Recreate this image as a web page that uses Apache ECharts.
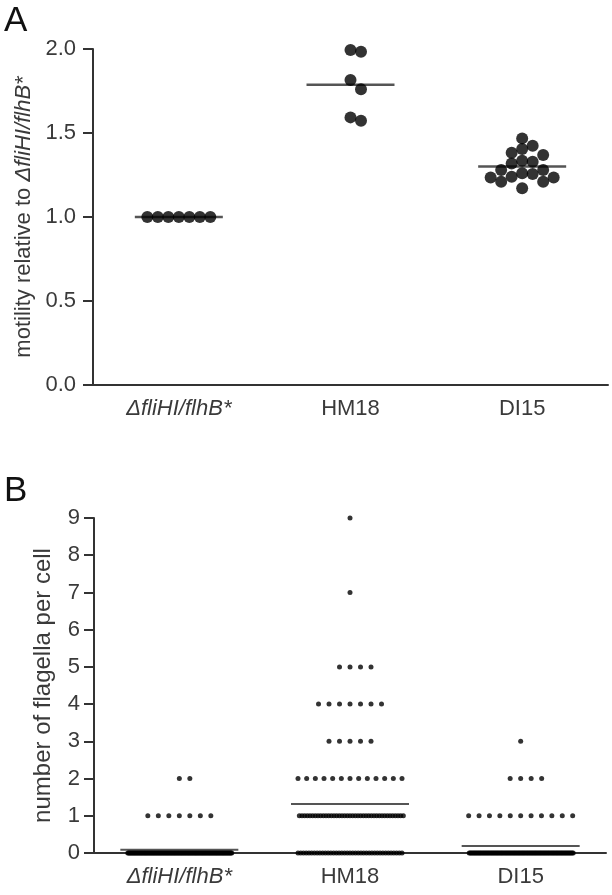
<!DOCTYPE html>
<html>
<head>
<meta charset="utf-8">
<script src="https://cdn.jsdelivr.net/npm/echarts@6/dist/echarts.min.js"></script>
<style>
html,body{margin:0;padding:0;background:#ffffff;}
#chart{width:612px;height:895px;}
</style>
</head>
<body>
<div id="chart"></div>
<script>
// ---------- data ----------
const categories = ['ΔfliHI/flhB*', 'HM18', 'DI15'];

// Panel A: motility relative to ΔfliHI/flhB*
const motilityTicks = [0.0, 0.5, 1.0, 1.5, 2.0];
const motilityDelta = [1.0, 1.0, 1.0, 1.0, 1.0, 1.0, 1.0];
const motilityHM18 = [1.994, 1.984, 1.815, 1.760, 1.593, 1.573];
const motilityDI15 = [1.468, 1.424, 1.405, 1.383, 1.369, 1.335, 1.329, 1.319, 1.280,
                      1.280, 1.260, 1.256, 1.240, 1.235, 1.235, 1.210, 1.210, 1.171];

// Panel B: number of flagella per cell (count of cells at each flagella number)
const flagellaTicks = [0, 1, 2, 3, 4, 5, 6, 7, 8, 9];
const flagellaDeltaCounts = [120, 7, 2, 0, 0, 0, 0, 0, 0, 0];
const flagellaHM18Counts  = [39, 40, 13, 5, 7, 4, 0, 1, 0, 1];
const flagellaDI15Counts  = [100, 11, 4, 1, 0, 0, 0, 0, 0, 0];

// ---------- helpers ----------
const FONT = '"Liberation Sans", Arial, sans-serif';
const TEXT = '#3a3a3a';
const AXIS = '#333333';

function mean(arr) { return arr.reduce((a, b) => a + b, 0) / arr.length; }
function expand(counts) {
  const out = [];
  counts.forEach((c, v) => { for (let i = 0; i < c; i++) out.push(flagellaTicks[v]); });
  return out;
}
function altOffset(k, s) { return k === 0 ? 0 : (k % 2 ? Math.ceil(k / 2) : -k / 2) * s; }

const flagellaCounts = [flagellaDeltaCounts, flagellaHM18Counts, flagellaDI15Counts];
const flagellaSets = flagellaCounts.map(expand);
const motilitySets = [motilityDelta, motilityHM18, motilityDI15];

function catLabel() {
  return {
    fontSize: 22, color: TEXT, fontFamily: FONT, margin: 13,
    formatter: v => v === categories[0] ? '{i|' + v + '}' : v,
    rich: { i: { fontStyle: 'italic', fontSize: 22, color: TEXT, fontFamily: FONT } }
  };
}

const chart = echarts.init(document.getElementById('chart'), null, { renderer: 'canvas' });

const option = {
  animation: false,
  backgroundColor: '#ffffff',
  textStyle: { fontFamily: FONT },
  graphic: [
    { type: 'text', left: 4, top: 4, style: { text: 'A', fontSize: 35, fill: '#111', fontFamily: FONT } },
    { type: 'text', left: 4, top: 474, style: { text: 'B', fontSize: 35, fill: '#111', fontFamily: FONT } }
  ],
  grid: [
    { left: 93, right: 4, top: 49, height: 336 },
    { left: 94, right: 6, top: 518, height: 335 }
  ],
  xAxis: [
    { gridIndex: 0, type: 'category', data: categories,
      axisLine: { lineStyle: { color: AXIS, width: 2 } },
      axisTick: { alignWithLabel: true, length: 10, lineStyle: { color: AXIS, width: 2 } },
      axisLabel: catLabel() },
    { gridIndex: 1, type: 'category', data: categories,
      axisLine: { lineStyle: { color: AXIS, width: 2 } },
      axisTick: { alignWithLabel: true, length: 10, lineStyle: { color: AXIS, width: 2 } },
      axisLabel: catLabel() }
  ],
  yAxis: [
    { gridIndex: 0, type: 'value', min: 0, max: 2, interval: 0.5,
      axisLine: { show: true, lineStyle: { color: AXIS, width: 2 } },
      axisTick: { show: true, length: 10, lineStyle: { color: AXIS, width: 2 } },
      splitLine: { show: false },
      axisLabel: { fontSize: 22, color: TEXT, fontFamily: FONT, margin: 17, formatter: v => v.toFixed(1) },
      name: 'motility relative to {i|ΔfliHI/flhB*}', nameLocation: 'middle', nameGap: 56,
      nameTextStyle: { fontSize: 22, color: TEXT, fontFamily: FONT,
        rich: { i: { fontStyle: 'italic', fontSize: 22, color: TEXT, fontFamily: FONT } } } },
    { gridIndex: 1, type: 'value', min: 0, max: 9, interval: 1,
      axisLine: { show: true, lineStyle: { color: AXIS, width: 2 } },
      axisTick: { show: true, length: 10, lineStyle: { color: AXIS, width: 2 } },
      splitLine: { show: false },
      axisLabel: { fontSize: 22, color: TEXT, fontFamily: FONT, margin: 14 },
      name: 'number of flagella per cell', nameLocation: 'middle', nameGap: 39,
      nameTextStyle: { fontSize: 24, color: TEXT, fontFamily: FONT } }
  ],
  series: []
};
chart.setOption(option);

// Panel A: beeswarm placement using the library's own scale
const A_STEP = 10.5;
function swarm(values, ci) {
  const placed = [];
  return values.map(v => {
    const py = chart.convertToPixel({ xAxisIndex: 0, yAxisIndex: 0 }, [ci, v])[1];
    for (let k = 0; k < 60; k++) {
      const dx = altOffset(k, A_STEP);
      if (placed.every(p => Math.hypot(p[0] - dx, p[1] - py) >= A_STEP - 0.01)) {
        placed.push([dx, py]);
        return dx;
      }
    }
    return 0;
  });
}

const series = [];
series.push({
  type: 'scatter', xAxisIndex: 0, yAxisIndex: 0, z: 3, silent: true,
  symbol: 'rect', symbolSize: [88, 2.5], itemStyle: { color: '#2b2b2b' },
  data: motilitySets.map((vals, ci) => ({ value: [ci, mean(vals)] }))
});
const dotsA = [];
motilitySets.forEach((vals, ci) => {
  const offs = swarm(vals, ci);
  vals.forEach((v, i) => dotsA.push({ value: [ci, v], symbolOffset: [offs[i], 0] }));
});
series.push({
  type: 'scatter', xAxisIndex: 0, yAxisIndex: 0, z: 4, silent: true,
  symbol: 'circle', symbolSize: 12, itemStyle: { color: '#000' },
  data: dotsA
});

// Panel B: rows of dots per flagella number
const B_STEP = 10.5, B_SPAN = 104;
const dotsB = [];
flagellaCounts.forEach((counts, ci) => {
  counts.forEach((n, v) => {
    if (!n) return;
    const s = (n > 1 && (n - 1) * B_STEP > B_SPAN) ? B_SPAN / (n - 1) : B_STEP;
    for (let k = 0; k < n; k++) {
      dotsB.push({ value: [ci, flagellaTicks[v]], symbolOffset: [altOffset(k, s), 0] });
    }
  });
});
series.push({
  type: 'scatter', xAxisIndex: 1, yAxisIndex: 1, z: 3, silent: true,
  symbol: 'rect', symbolSize: [118, 2], itemStyle: { color: '#2b2b2b' },
  data: flagellaSets.map((vals, ci) => ({ value: [ci, mean(vals)] }))
});
series.push({
  type: 'scatter', xAxisIndex: 1, yAxisIndex: 1, z: 4, silent: true,
  symbol: 'circle', symbolSize: 5, itemStyle: { color: '#000' },
  data: dotsB
});

chart.setOption({ series: series });
</script>
</body>
</html>
